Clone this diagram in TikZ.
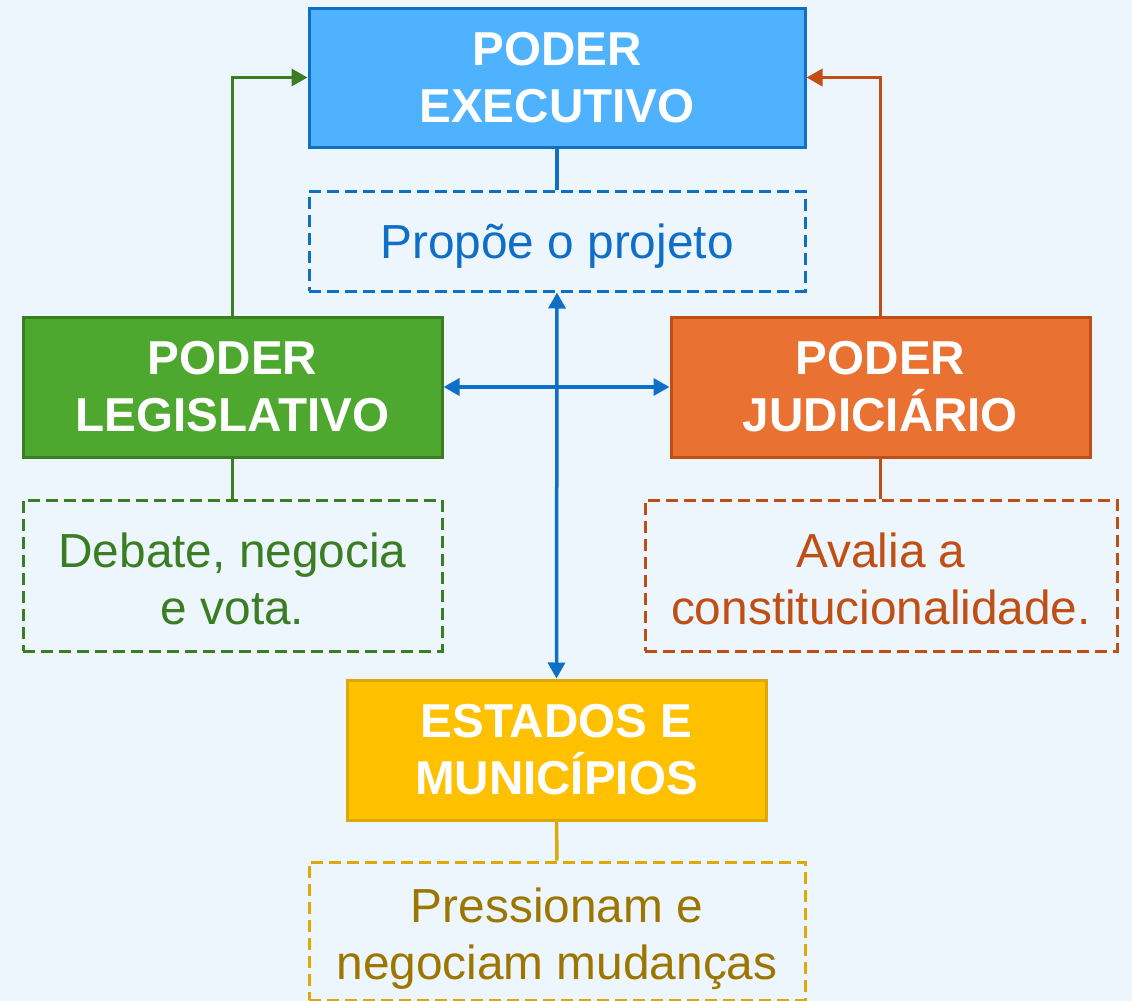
\documentclass[tikz,border=0pt]{standalone}
\usepackage{fontspec}
\setmainfont{Liberation Sans}
\usepackage{xcolor}
\usetikzlibrary{arrows.meta, positioning}
\definecolor{panelbg}{RGB}{238,246,253}
\definecolor{execfill}{RGB}{78,178,255}
\definecolor{execline}{RGB}{15,111,198}
\definecolor{legfill}{RGB}{78,167,46}
\definecolor{legline}{RGB}{59,125,35}
\definecolor{judfill}{RGB}{233,113,50}
\definecolor{judline}{RGB}{192,79,21}
\definecolor{estfill}{RGB}{255,192,0}
\definecolor{estline}{RGB}{221,168,10}
\definecolor{esttext}{RGB}{156,118,0}
\newcommand{\padtop}[1]{\rule{0pt}{#1}}

\tikzset{
    power/.style={draw, rectangle, line width=1.5pt, inner sep=0pt, align=center,
        text=white, font=\fontsize{23.8}{28.5}\selectfont\bfseries,
        minimum width=209.5pt, minimum height=70pt},
    note/.style={draw, rectangle, dashed, dash pattern=on 6pt off 3pt, line width=1.5pt,
        inner sep=0pt, align=center, font=\fontsize{23.9}{28.5}\selectfont},
    link/.style={line width=1.75pt},
    tip/.style={-{Triangle[length=8pt, width=8.5pt]}},
    tips/.style={{Triangle[length=8pt, width=8.5pt]}-{Triangle[length=8pt, width=8.5pt]}}
}

\begin{document}
\begin{tikzpicture}[x=0.5pt, y=-0.5pt]
    \path[use as bounding box, fill=panelbg] (0,0) rectangle (1132,1001);

    % the three powers and the states
    \node[power, fill=execfill, draw=execline, minimum width=248pt, minimum height=69.5pt]
        (exec) at (557,77.5) {PODER\\EXECUTIVO};
    \node[power, fill=legfill, draw=legline] (leg) at (232.5,387) {PODER\\LEGISLATIVO};
    \node[power, fill=judfill, draw=judline] (jud) at (880.5,387) {PODER\\JUDICIÁRIO};
    \node[power, fill=estfill, draw=estline] (est) at (556.5,750) {ESTADOS E\\MUNICÍPIOS};

    % what each one does
    \node[note, draw=execline, text=execline, minimum width=248pt, minimum height=50pt]
        (execnote) at (557,241) {\padtop{22.5pt}Propõe o projeto};
    \node[note, draw=legline, text=legline, minimum width=209.5pt, minimum height=75.5pt]
        (legnote) at (232.5,575.5) {\padtop{20.5pt}Debate, negocia\\e vota.};
    \node[note, draw=judline, text=judline, minimum width=236pt, minimum height=75.5pt]
        (judnote) at (881,575.5) {\padtop{20.5pt}Avalia a\\constitucionalidade.};
    \node[note, draw=estline, text=esttext, minimum width=248pt, minimum height=69pt]
        (estnote) at (557,931) {\padtop{25.5pt}Pressionam e\\negociam mudanças};

    \draw[link, execline] (exec) -- (execnote);
    \draw[link, legline] (leg) -- (legnote);
    \draw[link, judline] (jud.south) -- (jud.south |- judnote.north);
    \draw[link, estline] (est) -- (estnote);

    \draw[link, tip, legline] (leg.north) |- (exec.west);
    \draw[link, tip, judline] (jud.north) |- (exec.east);
    \draw[link, tips, execline] (leg.east) -- (jud.west);
    \draw[link, tips, execline] (execnote.south) -- (est.north);
\end{tikzpicture}
\end{document}
